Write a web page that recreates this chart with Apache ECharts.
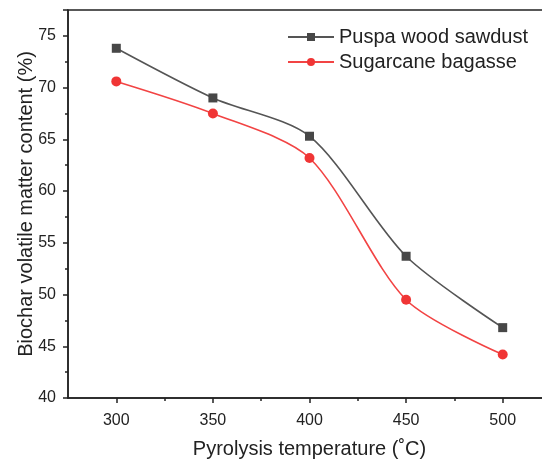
<!DOCTYPE html>
<html>
<head>
<meta charset="utf-8">
<script src="https://cdn.jsdelivr.net/npm/echarts@6/dist/echarts.min.js"></script>
<style>html,body{margin:0;padding:0;background:#fff}#c{width:542px;height:461px}</style>
</head>
<body>
<div id="c"></div>
<script>
const temperatures = [300, 350, 400, 450, 500];
const puspaWood = [73.8, 69.0, 65.3, 53.7, 46.8];
const sugarcane = [70.6, 67.5, 63.2, 49.5, 44.2];
const xTickLabels = [300, 350, 400, 450, 500];
const xMinorTicks = [325, 375, 425, 475];
const seriesNames = ['Puspa wood sawdust', 'Sugarcane bagasse'];

const FONT = 'Liberation Sans, Arial, sans-serif';
const INK = '#222';
const chart = echarts.init(document.getElementById('c'), null, {renderer: 'canvas'});
const pair = (xs, ys) => xs.map((x, i) => [x, ys[i]]);

chart.setOption({
  animation: false,
  backgroundColor: '#fff',
  grid: {left: 68, width: 483, top: 10, height: 388, containLabel: false, outerBoundsMode: 'none',
    show: true, borderColor: INK, borderWidth: 1.5, backgroundColor: 'transparent'},
  legend: {
    orient: 'vertical', left: 282, top: 22, itemWidth: 46, itemHeight: 10, itemGap: 5,
    textStyle: {fontFamily: FONT, fontSize: 20, color: INK},
    data: seriesNames
  },
  xAxis: [{
    type: 'value', min: 275, max: 525,
    name: 'Pyrolysis temperature (˚C)', nameLocation: 'middle', nameGap: 41, nameMoveOverlap: false,
    nameTextStyle: {fontFamily: FONT, fontSize: 20, color: INK},
    axisLine: {show: true, onZero: false, lineStyle: {color: INK, width: 1.5}},
    axisTick: {show: true, inside: false, length: 5, lineStyle: {color: INK, width: 1.5}, customValues: xTickLabels},
    axisLabel: {fontFamily: FONT, fontSize: 16, color: INK, margin: 15, customValues: xTickLabels},
    splitLine: {show: false}
  }, {
    type: 'value', min: 275, max: 525, position: 'bottom',
    axisLine: {show: false},
    axisTick: {show: true, inside: false, length: 3, lineStyle: {color: INK, width: 1.5}, customValues: xMinorTicks},
    axisLabel: {show: false},
    splitLine: {show: false}
  }],
  yAxis: {
    type: 'value', min: 40, max: 77.5, interval: 5,
    name: 'Biochar volatile matter content (%)', nameLocation: 'middle', nameGap: 32, nameMoveOverlap: false,
    nameTextStyle: {fontFamily: FONT, fontSize: 20, color: INK},
    axisLine: {show: true, onZero: false, lineStyle: {color: INK, width: 1.5}},
    axisTick: {show: true, inside: false, length: 5, lineStyle: {color: INK, width: 1.5}},
    minorTick: {show: true, splitNumber: 2, length: 3, lineStyle: {color: INK, width: 1.5}},
    axisLabel: {fontFamily: FONT, fontSize: 16, color: INK, margin: 12,
      formatter: v => (v % 5 === 0 ? String(v) : '')},
    splitLine: {show: false}
  },
  series: [{
    name: seriesNames[0], type: 'line', data: pair(temperatures, puspaWood),
    smooth: 0.28, symbol: 'rect', symbolSize: 9,
    lineStyle: {color: '#555', width: 1.6},
    itemStyle: {color: '#474747'}
  }, {
    name: seriesNames[1], type: 'line', data: pair(temperatures, sugarcane),
    smooth: 0.28, symbol: 'circle', symbolSize: 10,
    lineStyle: {color: '#f24444', width: 1.6},
    itemStyle: {color: '#f03535'}
  }]
});
</script>
</body>
</html>
